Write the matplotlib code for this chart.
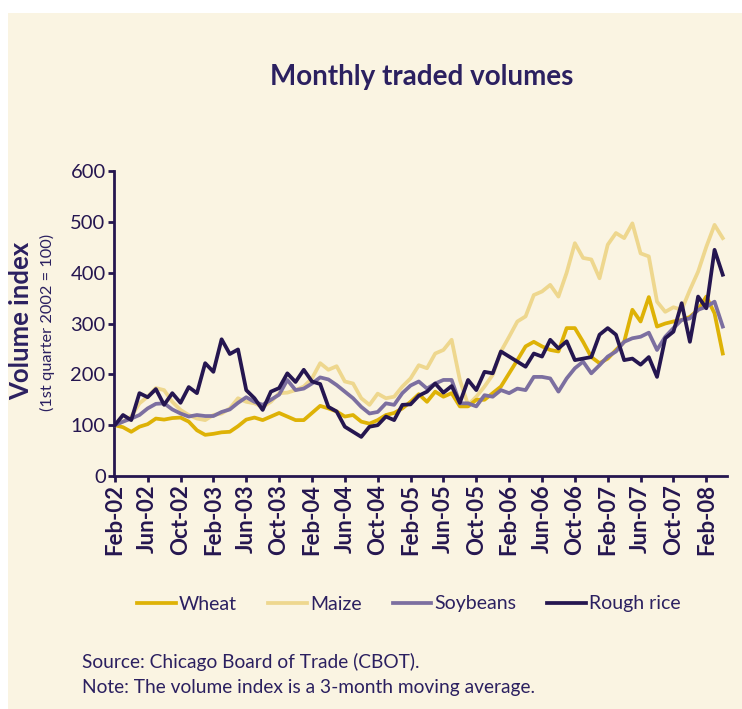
import matplotlib
matplotlib.use('Agg')
import matplotlib.pyplot as plt
from matplotlib.patches import Rectangle

# volume index, 3-month moving average, Feb-02 .. Apr-08 (monthly)
wheat = [100, 96, 87, 97, 102, 113, 111, 114, 115, 107, 90, 81, 83, 86, 87, 98, 111, 115, 110, 117,
         124, 117, 110, 110, 124, 138, 133, 127, 117, 120, 107, 103, 110, 120, 124, 133, 146, 161,
         146, 166, 156, 163, 137, 137, 150, 150, 163, 176, 202, 228, 255, 264, 255, 248, 245, 291,
         291, 264, 234, 222, 231, 248, 264, 327, 304, 352, 294, 300, 304, 307, 313, 327, 353, 320, 241]
maize = [100, 107, 117, 143, 156, 173, 169, 146, 130, 120, 113, 110, 120, 123, 133, 153, 146, 143, 136, 146,
         163, 164, 169, 176, 192, 222, 209, 216, 186, 182, 153, 140, 162, 153, 156, 176, 192, 218,
         212, 241, 248, 268, 189, 140, 156, 176, 199, 245, 274, 304, 314, 356, 363, 376, 353, 400,
         458, 429, 426, 389, 455, 478, 468, 497, 438, 432, 343, 323, 332, 327, 366, 402, 451, 494, 468]
soybeans = [100, 107, 113, 120, 133, 142, 143, 131, 123, 117, 120, 118, 118, 126, 131, 144, 155, 146, 140, 150,
            160, 189, 169, 172, 182, 194, 190, 179, 166, 153, 136, 123, 126, 143, 140, 163, 178, 186,
            172, 182, 189, 189, 143, 143, 137, 159, 156, 169, 163, 172, 169, 195, 195, 192, 166, 192,
            212, 225, 202, 218, 235, 245, 264, 271, 274, 282, 248, 274, 291, 307, 310, 327, 333, 343, 294]
rough_rice = [100, 120, 110, 163, 155, 171, 140, 163, 144, 175, 163, 222, 205, 269, 240, 249, 169, 153, 130, 166,
              173, 202, 185, 209, 186, 181, 136, 127, 97, 87, 77, 97, 100, 117, 110, 140, 141, 158,
              166, 182, 164, 177, 144, 189, 169, 205, 202, 245, 235, 225, 215, 241, 235, 268, 251, 265,
              228, 231, 234, 278, 291, 278, 228, 231, 219, 234, 195, 271, 284, 340, 264, 353, 330, 445, 396]

tick_labels = ['Feb-02', 'Jun-02', 'Oct-02', 'Feb-03', 'Jun-03', 'Oct-03', 'Feb-04', 'Jun-04',
               'Oct-04', 'Feb-05', 'Jun-05', 'Oct-05', 'Feb-06', 'Jun-06', 'Oct-06', 'Feb-07',
               'Jun-07', 'Oct-07', 'Feb-08']

cream = '#FAF4E2'
navy = '#251650'
textc = '#2B2060'

plt.rcParams['font.family'] = ['Lato', 'DejaVu Sans']

fig = plt.figure(figsize=(7.42, 7.09), dpi=100, facecolor='white')
fig.patches.append(Rectangle((8 / 742, 0), 1, 1 - 13 / 709, transform=fig.transFigure,
                             facecolor=cream, edgecolor='none', zorder=-10))

ax = fig.add_axes([0.1536, 0.3286, 0.826, 0.4302])
ax.set_facecolor('none')

months = list(range(len(wheat)))
ax.plot(months, maize, color='#EED78E', lw=2.7, label='Maize', zorder=2)
ax.plot(months, wheat, color='#DEB206', lw=2.7, label='Wheat', zorder=3)
ax.plot(months, soybeans, color='#7C6FA0', lw=2.7, label='Soybeans', zorder=4)
ax.plot(months, rough_rice, color=navy, lw=2.7, label='Rough rice', zorder=5)

ax.set_xlim(-0.1, 74.5)
ax.set_ylim(0, 600)
ax.set_yticks(range(0, 601, 100))
ax.set_xticks(range(0, 4 * len(tick_labels), 4))
ax.set_xticklabels(tick_labels, rotation=90, fontsize=16, fontweight='bold', color=textc)
for lab in ax.get_yticklabels():
    lab.set_fontsize(14.5)
    lab.set_color(textc)

for s in ['top', 'right']:
    ax.spines[s].set_visible(False)
for s in ['left', 'bottom']:
    ax.spines[s].set_color(navy)
    ax.spines[s].set_linewidth(2)
ax.tick_params(colors=navy, width=2, length=4, pad=2)

fig.text(422 / 742, 1 - 77 / 709, 'Monthly traded volumes', ha='center', va='center',
         fontsize=20, fontweight='bold', color=textc)
fig.text(21 / 742, 1 - 321 / 709, 'Volume index', rotation=90, ha='center', va='center',
         fontsize=18.5, fontweight='bold', color=textc)
fig.text(47 / 742, 1 - 322 / 709, '(1st quarter 2002 = 100)', rotation=90, ha='center', va='center',
         fontsize=11.8, color=textc)

h, l = ax.get_legend_handles_labels()
order = [1, 0, 2, 3]
leg = fig.legend([h[i] for i in order], [l[i] for i in order], loc='center',
                 bbox_to_anchor=(409 / 742, 1 - 604 / 709), ncol=4, frameon=False, fontsize=14,
                 handlelength=2.0, handletextpad=0.15, columnspacing=1.6)
for t in leg.get_texts():
    t.set_color(textc)

fig.text(82 / 742, 1 - 662 / 709, 'Source: Chicago Board of Trade (CBOT).', va='center',
         fontsize=13.8, color=textc)
fig.text(82 / 742, 1 - 688 / 709, 'Note: The volume index is a 3-month moving average.', va='center',
         fontsize=13.8, color=textc)

fig.savefig('out.png', dpi=100, facecolor='white')
